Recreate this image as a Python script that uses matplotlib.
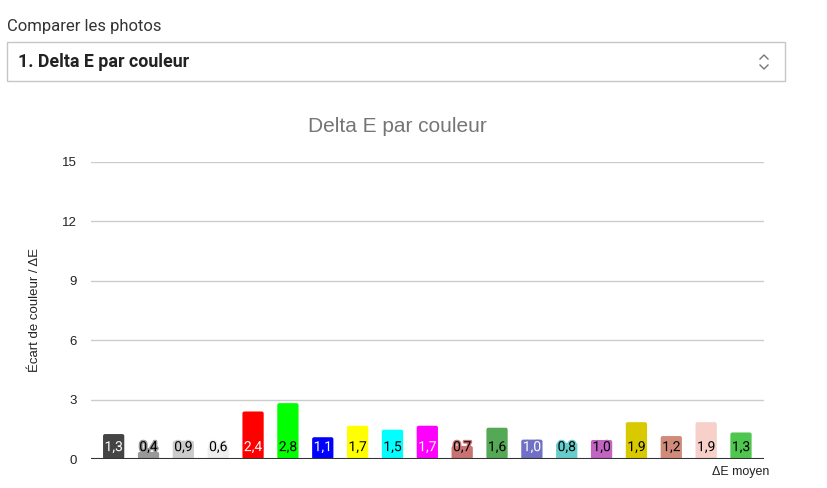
import matplotlib
matplotlib.use("Agg")
import matplotlib.pyplot as plt
import matplotlib.patheffects as pe
from matplotlib.patches import FancyBboxPatch, Rectangle
from matplotlib.lines import Line2D
import numpy as np

# ---- data ----------------------------------------------------------------
values = [1.26, 0.36, 0.92, 0.62, 2.40, 2.82, 1.10, 1.68, 1.48, 1.68,
          0.66, 1.58, 0.98, 0.82, 0.96, 1.86, 1.16, 1.86, 1.34]
colors = ["#444444", "#999999", "#cccccc", "#eeeeee", "#ff0000", "#00ff00",
          "#0000ff", "#ffff00", "#00ffff", "#ff00ff", "#c87272", "#55a855",
          "#7070c4", "#66cccc", "#c264c2", "#d9c900", "#d18b7b", "#f7d0ca",
          "#4fc64f"]
label_colors = ["white", "black", "black", "black", "white", "black",
                "white", "black", "black", "white", "black", "black",
                "white", "black", "black", "black", "black", "black",
                "black"]
yticks = [0, 3, 6, 9, 12, 15]

W, H = 828, 488
fig = plt.figure(figsize=(W / 100, H / 100), dpi=100)

def fx(px): return px / W
def fy(py): return 1 - py / H

# ---- page chrome above the chart -----------------------------------------
fig.text(fx(7), fy(26), "Comparer les photos", family="Roboto", fontsize=12,
         color="#333333", va="center", ha="left")
fig.patches.append(Rectangle((fx(7), fy(81)), fx(785) - fx(7), fy(42) - fy(81),
                             transform=fig.transFigure, fill=False,
                             edgecolor="#c6c6c6", lw=1))
fig.text(fx(18), fy(62), "1. Delta E par couleur", family="Roboto",
         fontweight="bold", fontsize=12.8, color="#222222", va="center", ha="left")
for pts in ([(760, 59), (764, 55), (768, 59)], [(760, 65), (764, 69), (768, 65)]):
    fig.lines.append(Line2D([fx(p[0]) for p in pts], [fy(p[1]) for p in pts],
                            transform=fig.transFigure, color="#777777", lw=1))

# ---- chart ---------------------------------------------------------------
ax = fig.add_axes([fx(91), fy(459), fx(764) - fx(91), fy(162) - fy(459)])
x = np.arange(len(values))
bars = ax.bar(x, values, 0.61, color=colors)
ax.set_xlim(-0.65, len(values) - 1 + 0.66)
ax.set_ylim(0, 15)

# rounded corners on the bars
px_x = (ax.get_xlim()[1] - ax.get_xlim()[0]) / (764 - 91)
px_y = 15 / (459 - 162)
for b in bars:
    b.set_visible(False)
    ax.add_patch(FancyBboxPatch((b.get_x(), b.get_y()), b.get_width(), b.get_height(),
                                boxstyle=f"round,pad=0,rounding_size={2 * px_x}",
                                mutation_aspect=px_y / px_x,
                                facecolor=b.get_facecolor(), edgecolor="none", zorder=2))

for xi, v, c, tc in zip(x, values, colors, label_colors):
    ax.text(xi, 0.6, f"{v:.1f}".replace(".", ","), ha="center", va="center",
            fontsize=10, color=tc, family="Roboto", zorder=4,
            path_effects=[pe.withStroke(linewidth=2, foreground=c)])

ax.set_yticks(yticks)
ax.set_yticklabels([str(t) for t in yticks], family="Liberation Sans",
                   fontsize=9.5, color="#222222")
ax.tick_params(axis="y", length=0, pad=10)
ax.set_xticks([])
ax.grid(axis="y", color="#cccccc", lw=1)
ax.set_axisbelow(True)
for s in ax.spines.values():
    s.set_visible(False)
ax.axhline(0, color="#333333", lw=1.5, zorder=3)
ax.set_ylabel("Écart de couleur / ΔE", family="Liberation Sans", fontsize=9.5,
              color="#222222", labelpad=15)

fig.text(fx(397), fy(127), "Delta E par couleur", family="Liberation Sans",
         fontsize=15, color="#757575", ha="center", va="center")
fig.text(fx(769), fy(472), "ΔE moyen", family="Liberation Sans", fontsize=9,
         color="#222222", ha="right", va="center")

fig.savefig("out.png", dpi=100)
